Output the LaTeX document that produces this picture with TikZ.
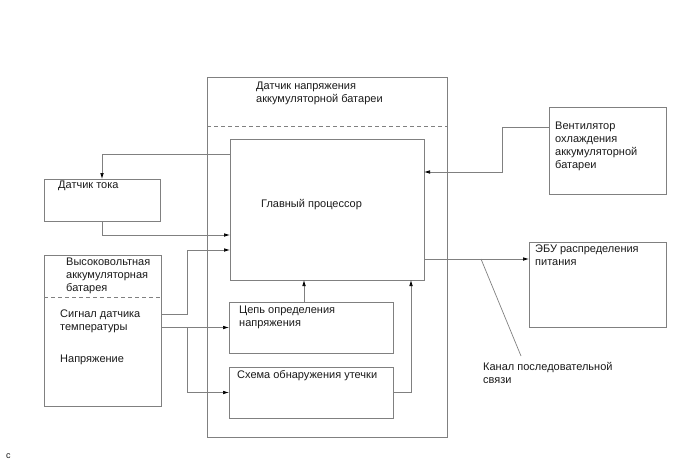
\documentclass[tikz,border=0pt]{standalone}
\usepackage{fontspec}
\setmainfont{Liberation Sans}
\usetikzlibrary{arrows.meta}

\begin{document}
\begin{tikzpicture}[x=1pt,y=-1pt,>={Latex[length=6pt,width=3.6pt,color=black]},font=\fontsize{11}{13}\selectfont,
 blk/.style={draw=black!50,line width=.7pt,anchor=north west,inner sep=0pt,outer sep=0pt},
 lbl/.style={anchor=base west,align=left,inner sep=0pt,text=black!90},
 wire/.style={draw=black!50,line width=.7pt},
 sep/.style={draw=black!50,line width=.6pt,dash pattern=on 4pt off 3pt}]
\useasboundingbox (0,0) rectangle (688,463);
% boxes
\node[blk,minimum width=240,minimum height=360] (volt) at (207,77) {};
\node[blk,minimum width=194,minimum height=141] (main) at (230,139) {};
\node[blk,minimum width=116,minimum height=42] (cur) at (44,179) {};
\node[blk,minimum width=117,minimum height=151] (bat) at (44,255) {};
\node[blk,minimum width=164,minimum height=51] (vdet) at (229,302) {};
\node[blk,minimum width=164,minimum height=51] (leak) at (229,367) {};
\node[blk,minimum width=117,minimum height=87] (fan) at (549,107) {};
\node[blk,minimum width=137,minimum height=85] (ecu) at (529,242) {};
\coordinate (vsep) at (0,126);
\coordinate (bsep) at (0,297);
\draw[sep] (volt.west |- vsep)--(volt.east |- vsep);
\draw[sep] (bat.west |- bsep)--(bat.east |- bsep);

% texts (base = last line)
\node[lbl] (volt-t) at (256,102) {Датчик напряжения\\аккумуляторной батареи};
\node[lbl] (main-t) at (261,207) {Главный процессор};
\node[lbl] (cur-t) at (58,188) {Датчик тока};
\node[lbl] (bat-t) at (66,291) {Высоковольтная\\аккумуляторная\\батарея};
\node[lbl] (sig-t) at (60,330) {Сигнал датчика\\температуры};
\node[lbl] (u-t) at (60,362) {Напряжение};
\node[lbl] (vdet-t) at (239,326) {Цепь определения\\напряжения};
\node[lbl] (leak-t) at (237,378) {Схема обнаружения утечки};
\node[lbl] (fan-t) at (555,168) {Вентилятор\\охлаждения\\аккумуляторной\\батареи};
\node[lbl] (ecu-t) at (535,265) {ЭБУ распределения\\питания};
\node[lbl] (canal) at (483,383) {Канал последовательной\\связи};
\node[lbl,font=\fontsize{9}{10}\selectfont] (mark) at (6,458) {c};

% connectors
\draw[wire,->] ([yshift=-15pt]main.north west) -| (cur.north);
\draw[wire,->] (cur.south) |- ([yshift=45pt]main.south west);
\draw[wire,->] ([yshift=-59pt]bat.north east) -- ++(26,0) |- ([yshift=30pt]main.south west);
\draw[wire,->] (bat.east |- vdet.west) -- (vdet.west);
\draw[wire,->] (bat.east |- vdet.west) ++(26,0) |- (leak.west);
\draw[wire,->] ([xshift=-7pt]vdet.north) -- ([xshift=-7pt]vdet.north |- main.south);
\draw[wire,->] (leak.east) -| ([xshift=-13pt]main.south east);
\draw[wire,->] ([yshift=-20pt]fan.north west) -- ++(-47,0) |- ([yshift=-33pt]main.north east);
\coordinate (bus) at ([yshift=-17pt]ecu.north west);
\draw[wire,->] (main.east |- bus) -- (bus);
\coordinate (tap) at (481,259);
\coordinate (tail) at (521,356);
\draw[wire] (tap) -- (tail);
\end{tikzpicture}
\end{document}
